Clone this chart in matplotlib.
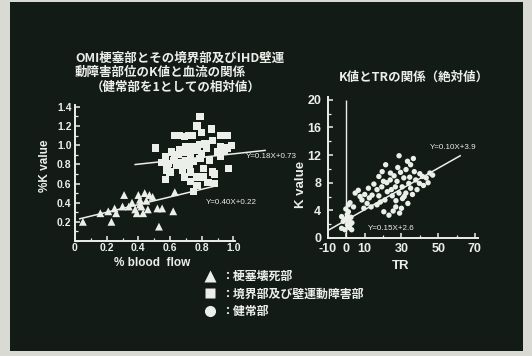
import matplotlib
matplotlib.use("Agg")
import matplotlib.pyplot as plt
from matplotlib.lines import Line2D
from matplotlib.patches import Rectangle
from matplotlib.ticker import MultipleLocator

plt.rcParams['font.family'] = ['Noto Sans CJK JP', 'DejaVu Sans']

# ---- data: relative K value vs. relative blood flow ----
tri_flow = [0.05, 0.16, 0.21, 0.23, 0.25, 0.26, 0.30, 0.31, 0.34, 0.36,
            0.38, 0.39, 0.40, 0.41, 0.41, 0.42, 0.43, 0.44, 0.45, 0.46,
            0.47, 0.49, 0.52, 0.53, 0.55, 0.62, 0.63]
tri_k = [0.20, 0.29, 0.31, 0.20, 0.34, 0.29, 0.36, 0.48, 0.36, 0.40,
         0.33, 0.29, 0.48, 0.43, 0.38, 0.36, 0.29, 0.50, 0.42, 0.33,
         0.48, 0.46, 0.34, 0.15, 0.34, 0.31, 0.51]

sq_flow = [0.51, 0.63, 0.66, 0.69, 0.72, 0.74, 0.77, 0.79, 0.80, 0.86,
           0.87, 0.92, 0.96, 0.99, 0.96, 0.92, 0.90, 0.82, 0.77, 0.73,
           0.69, 0.65, 0.62, 0.59, 0.57, 0.61, 0.64, 0.68, 0.60, 0.57,
           0.72, 0.75, 0.73, 0.77, 0.73, 0.77, 0.81, 0.88, 0.88, 0.97,
           0.85, 0.92, 0.80, 0.79, 0.70, 0.66, 0.83, 0.75, 0.70, 0.79,
           0.69, 0.81, 0.84, 0.75, 0.87, 0.58, 0.63, 0.94, 0.55, 0.67]
sq_k = [0.97, 1.10, 1.10, 1.09, 1.10, 1.10, 1.20, 1.30, 1.13, 1.17,
        1.05, 1.10, 1.10, 1.00, 0.97, 0.98, 0.93, 1.02, 0.95, 0.91,
        0.93, 0.90, 0.84, 0.81, 0.88, 0.93, 0.79, 0.74, 0.72, 0.64,
        0.79, 0.83, 0.72, 0.67, 0.62, 0.58, 0.67, 0.70, 0.60, 0.76,
        0.84, 0.88, 0.91, 0.86, 0.84, 0.95, 0.97, 0.99, 0.99, 1.01,
        0.67, 0.76, 0.61, 0.52, 0.72, 0.74, 0.86, 0.95, 0.82, 0.82]

# regression lines (slope, intercept) and the x-range they span
fit_sq = (0.18, 0.73)
fit_sq_range = (0.38, 1.20)
fit_tri = (0.40, 0.22)
fit_tri_range = (0.03, 0.89)

# ---- data: absolute K value vs. TR ----
tr_vals = [-2.6, -0.8, 2.9, 2.0, -1.7, 0.2, 1.1, 1.1, -2.6, 0.6,
           1.6, 2.0, 3.9, -1.0, 0.5, 1.5, 3.0, -0.3, 2.5, 4.8,
           7.5, 6.5, 8.5, 11.3, 10.0, 12.5, 14.0, 16.7, 16.7, 17.7,
           17.7, 19.3, 20.2, 20.4, 21.4, 22.3, 23.2, 23.9, 25.0, 26.7,
           26.9, 27.6, 28.7, 28.7, 30.4, 30.6, 31.3, 32.4, 33.3, 34.0,
           35.0, 35.0, 37.0, 37.8, 39.8, 41.5, 43.5, 47.0, 15.0, 18.5,
           21.0, 22.0, 24.5, 26.0, 27.0, 29.5, 30.0, 31.5, 32.5, 33.5,
           34.5, 36.0, 38.5, 40.0, 42.0, 44.5, 19.5, 24.0, 28.0, 12.0,
           9.5, 13.5, 25.5, 29.0, 36.5, 45.5]
k_vals = [1.4, 1.2, 1.2, 1.9, 2.4, 2.9, 3.8, 4.8, 3.1, 1.9,
          1.5, 5.1, 4.5, 2.6, 3.4, 2.5, 2.2, 4.2, 3.0, 6.5,
          6.0, 6.9, 5.5, 5.0, 6.3, 5.8, 6.2, 4.8, 7.0, 6.1,
          8.9, 7.4, 8.2, 3.8, 10.6, 6.7, 3.3, 8.4, 6.1, 7.4,
          4.5, 8.2, 6.5, 11.9, 7.4, 5.7, 8.7, 6.5, 11.1, 7.9,
          10.6, 7.2, 9.6, 8.4, 7.9, 8.9, 8.7, 9.1, 7.8, 5.2,
          5.5, 8.0, 7.0, 9.0, 5.4, 9.5, 4.3, 6.0, 9.9, 5.0,
          8.8, 6.3, 7.0, 9.3, 7.6, 8.0, 9.6, 9.4, 10.2, 7.2,
          4.3, 4.5, 3.9, 3.6, 11.5, 9.4]

fit_tr = (0.15, 2.6)
fit_tr_range = (-10, 62)
fit_tr_alt = (0.10, 3.9)

left_xticks = [0, 0.2, 0.4, 0.6, 0.8, 1.0]
left_xlabels = ['0', '0.2', '0.4', '0.6', '0.8', '1.0']
left_yticks = [0.2, 0.4, 0.6, 0.8, 1.0, 1.2, 1.4]
left_ylabels = ['0.2', '0.4', '0.6', '0.8', '1.0', '1.2', '1.4']
right_xticks = [-10, 0, 10, 30, 50, 70]
right_yticks = [0, 4, 8, 12, 16, 20]

legend_labels = ['：梗塞壊死部', '：境界部及び壁運動障害部', '：健常部']

# ---- style ----
W, H = 532, 356
BG = '#121b16'
FG = '#eceeea'
FRAME = '#dadad5'
NUM_FONT = 'Liberation Sans'


def fx(px):
    return px / W


def fy(py):
    return 1 - py / H


fig = plt.figure(figsize=(W / 100, H / 100), dpi=100, facecolor=FRAME)
fig.patches.append(Rectangle((fx(10), fy(351)), (523 - 10) / W, (351 - 2) / H,
                             transform=fig.transFigure, facecolor=BG,
                             edgecolor='none', zorder=-10))


def style_axes(ax, ypad, xpad):
    ax.set_facecolor('none')
    for side in ('top', 'right'):
        ax.spines[side].set_visible(False)
    for side in ('left', 'bottom'):
        ax.spines[side].set_color(FG)
        ax.spines[side].set_linewidth(1.4)
    ax.tick_params(which='major', direction='in', colors=FG, length=3.5, width=1.1)
    ax.tick_params(which='minor', direction='in', colors=FG, length=2, width=0.9)
    ax.tick_params(axis='y', pad=ypad)
    ax.tick_params(axis='x', pad=xpad)


# left panel
ax1 = fig.add_axes([fx(75), fy(241), 160 / W, 136 / H])
ax1.set_xlim(0, 1.01)
ax1.set_ylim(0, 1.42)
style_axes(ax1, 2.5, 1.5)
ax1.set_xticks(left_xticks, left_xlabels, fontsize=7.5, fontweight='bold',
               family=NUM_FONT, color=FG)
ax1.set_yticks(left_yticks, left_ylabels, fontsize=7.5, fontweight='bold',
               family=NUM_FONT, color=FG)
ax1.xaxis.set_minor_locator(MultipleLocator(0.1))
ax1.yaxis.set_minor_locator(MultipleLocator(0.1))

ax1.scatter(tri_flow, tri_k, marker='^', s=32, color=FG, edgecolors='none', zorder=3)
ax1.scatter(sq_flow, sq_k, marker='s', s=28, color=FG, edgecolors='none', zorder=3)

for (m, b), (x0, x1) in ((fit_sq, fit_sq_range), (fit_tri, fit_tri_range)):
    ax1.plot([x0, x1], [m * x0 + b, m * x1 + b], color=FG, lw=1.1,
             clip_on=False, zorder=2)

# right panel
ax2 = fig.add_axes([fx(328), fy(238), 150 / W, 141 / H])
ax2.set_xlim(-10, 71.7)
ax2.set_ylim(0, 20.4)
style_axes(ax2, 5, 3.5)
ax2.set_xticks(right_xticks, [str(t) for t in right_xticks], fontsize=9,
               fontweight='bold', family=NUM_FONT, color=FG)
ax2.set_yticks(right_yticks, [str(t) for t in right_yticks], fontsize=9,
               fontweight='bold', family=NUM_FONT, color=FG)
ax2.xaxis.set_minor_locator(MultipleLocator(10))
ax2.yaxis.set_minor_locator(MultipleLocator(2))
ax2.vlines(0, 0, 20, color=FG, lw=1.0)

ax2.scatter(tr_vals, k_vals, marker='o', s=15, color=FG, edgecolors='none', zorder=3)
m, b = fit_tr
x0, x1 = fit_tr_range
ax2.plot([x0, x1], [m * x0 + b, m * x1 + b], color=FG, lw=1.1, zorder=2)

# titles
title_kw = dict(color=FG, fontsize=9, fontweight='bold', va='center', ha='left')
fig.text(fx(75), fy(58), 'OMI梗塞部とその境界部及びIHD壁運', **title_kw)
fig.text(fx(75), fy(72), '動障害部位のK値と血流の関係', **title_kw)
fig.text(fx(91), fy(87), '（健常部を1としての相対値）', **title_kw)
fig.text(fx(339), fy(77), 'K値とTRの関係（絶対値）', **title_kw)

# axis labels
lab_kw = dict(color=FG, fontweight='bold', family=NUM_FONT, va='center', ha='center')
fig.text(fx(152), fy(263), '% blood  flow', fontsize=8.5, **lab_kw)
fig.text(fx(45), fy(166), '%K value', fontsize=8.5, rotation=90, **lab_kw)
fig.text(fx(401), fy(266), 'TR', fontsize=9.5, **lab_kw)
fig.text(fx(301), fy(184), 'K value', fontsize=9.5, rotation=90, **lab_kw)

# regression equations
eq_kw = dict(color=FG, fontsize=5.8, family=NUM_FONT, va='center', ha='left')
fig.text(fx(246), fy(157), f'Y={fit_sq[0]:.2f}X+{fit_sq[1]:.2f}', **eq_kw)
fig.text(fx(206), fy(202), f'Y={fit_tri[0]:.2f}X+{fit_tri[1]:.2f}', **eq_kw)
fig.text(fx(430), fy(147), f'Y={fit_tr_alt[0]:.2f}X+{fit_tr_alt[1]:.1f}', **eq_kw)
fig.text(fx(368), fy(229), f'Y={fit_tr[0]:.2f}X+{fit_tr[1]:.1f}', **eq_kw)

# legend
handles = [Line2D([], [], ls='none', marker=mk, ms=ms, color=FG, markeredgecolor='none')
           for mk, ms in (('^', 8), ('s', 7), ('o', 8))]
leg = fig.legend(handles, legend_labels, loc='upper left',
                 bbox_to_anchor=(fx(204), fy(270)), frameon=False,
                 handlelength=1.0, handletextpad=0.4, labelspacing=0.38,
                 borderpad=0, borderaxespad=0,
                 prop=dict(family=['Noto Sans CJK JP', 'DejaVu Sans'],
                           weight='bold', size=8.6))
for t in leg.get_texts():
    t.set_color(FG)

fig.savefig('out.png', dpi=100, facecolor=FRAME)
